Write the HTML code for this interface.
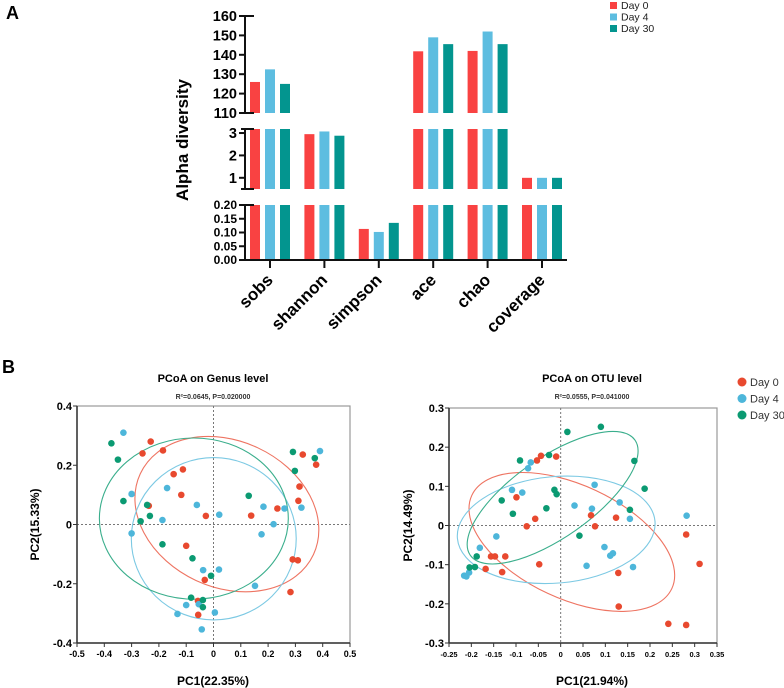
<!DOCTYPE html>
<html><head><meta charset="utf-8"><style>
body{margin:0;background:#fff;}
svg{display:block;font-family:"Liberation Sans",Arial,sans-serif;}
</style></head><body>
<svg id="fig" width="784" height="688" viewBox="0 0 784 688" xmlns="http://www.w3.org/2000/svg">
<text x="6" y="19" font-size="18" font-weight="bold">A</text>
<text x="2" y="373" font-size="18" font-weight="bold">B</text>
<g id="barChart"></g>
<g id="pcoa1"></g>
<g id="pcoa2"></g>
</svg>
<script>
// ---- Bar chart data ----
const categories = ["sobs","shannon","simpson","ace","chao","coverage"];
const groups = ["Day 0","Day 4","Day 30"];
const day0Values = [126, 2.95, 0.113, 141.8, 142, 0.999];
const day4Values = [132.5, 3.07, 0.102, 149, 152, 0.999];
const day30Values = [125, 2.88, 0.135, 145.5, 145.5, 0.999];
const topTicks = [110,120,130,140,150,160];
const midTicks = [1,2,3];
const lowTicks = ["0.00","0.05","0.10","0.15","0.20"];

// ---- PCoA genus data ----
const genusDay0X = [-0.23,-0.26,-0.185,-0.146,-0.112,-0.118,-0.237,-0.028,-0.10,-0.032,-0.057,-0.056,0.138,0.234,0.327,0.376,0.315,0.311,0.29,0.309,0.282];
const genusDay0Y = [0.28,0.24,0.25,0.17,0.186,0.10,0.063,0.029,-0.072,-0.187,-0.258,-0.305,0.03,0.054,0.236,0.202,0.128,0.08,-0.118,-0.121,-0.228];
const genusDay4X = [-0.33,-0.30,-0.17,-0.30,-0.187,-0.061,0.021,-0.038,0.02,-0.10,-0.132,-0.054,0.005,-0.043,0.152,0.176,0.183,0.22,0.26,0.322,0.39];
const genusDay4Y = [0.31,0.103,0.123,-0.03,0.015,0.066,0.033,-0.154,-0.152,-0.272,-0.302,-0.269,-0.297,-0.354,-0.207,-0.033,0.06,0.001,0.054,0.057,0.248];
const genusDay30X = [-0.374,-0.35,-0.33,-0.243,-0.233,-0.267,-0.187,-0.077,-0.009,-0.082,-0.039,-0.039,0.129,0.291,0.298,0.371];
const genusDay30Y = [0.274,0.219,0.079,0.066,0.029,0.011,-0.067,-0.114,-0.173,-0.247,-0.255,-0.279,0.097,0.245,0.181,0.224];
const genusXTicks = [-0.5,-0.4,-0.3,-0.2,-0.1,0,0.1,0.2,0.3,0.4,0.5];
const genusYTicks = [0.4,0.2,0,-0.2,-0.4];

// ---- PCoA OTU data ----
const otuDay0X = [-0.099,-0.076,-0.057,-0.053,-0.044,-0.01,-0.156,-0.147,-0.124,-0.168,-0.131,-0.048,0.068,0.077,0.124,0.129,0.13,0.241,0.281,0.281,0.311];
const otuDay0Y = [0.072,-0.002,0.017,0.166,0.178,0.176,-0.079,-0.079,-0.079,-0.111,-0.119,-0.099,0.026,-0.002,0.02,-0.121,-0.207,-0.251,-0.254,-0.023,-0.098];
const otuDay4X = [-0.216,-0.211,-0.205,-0.181,-0.144,-0.109,-0.086,-0.073,-0.067,0.031,0.07,0.076,0.058,0.098,0.111,0.117,0.132,0.155,0.162,0.282];
const otuDay4Y = [-0.128,-0.13,-0.12,-0.057,-0.028,0.091,0.084,0.146,0.161,0.051,0.043,0.104,-0.103,-0.055,-0.077,-0.071,0.059,0.017,-0.106,0.025];
const otuDay30X = [-0.204,-0.192,-0.188,-0.132,-0.107,-0.091,-0.032,-0.026,-0.014,-0.009,0.015,0.09,0.042,0.165,0.155,0.188];
const otuDay30Y = [-0.107,-0.106,-0.079,0.064,0.03,0.166,0.044,0.18,0.091,0.08,0.239,0.252,-0.026,0.165,0.04,0.094];
const otuXTicks = [-0.25,-0.2,-0.15,-0.1,-0.05,0,0.05,0.1,0.15,0.2,0.25,0.3,0.35];
const otuYTicks = [0.3,0.2,0.1,0,-0.1,-0.2,-0.3];

const NS="http://www.w3.org/2000/svg";
function mk(parent,tag,attrs,text){const e=document.createElementNS(NS,tag);for(const k in attrs)e.setAttribute(k,attrs[k]);if(text!==undefined)e.textContent=text;parent.appendChild(e);return e;}

// ===== Bar chart =====
(function(){
  const g=document.getElementById('barChart');
  const barColors=["#f94242","#5dbde0","#03958f"];
  const series=[day0Values,day4Values,day30Values];
  const axX=245, xEnd=567, g0=270, gStep=54.4, bw=10;
  const segs=[
    {lo:110,hi:160,y0:113,y1:16},
    {lo:0.5,hi:3.18,y0:189,y1:129},
    {lo:0,hi:0.2,y0:260,y1:205}
  ];
  function sy(s,v){return s.y0+(v-s.lo)/(s.hi-s.lo)*(s.y1-s.y0);}
  const xc=i=>g0+i*gStep;
  categories.forEach((c,i)=>{
    series.forEach((vals,k)=>{
      const v=vals[i];
      segs.forEach(s=>{
        if(v<=s.lo) return;
        const vt=Math.min(v,s.hi);
        const yt=sy(s,vt);
        const r=mk(g,'rect',{x:xc(i)+(k-1)*15-bw/2,y:yt,width:bw,height:s.y0-yt,fill:barColors[k]});
        
        
      });
    });
    const t=mk(g,'line',{x1:xc(i),x2:xc(i),y1:261,y2:268,stroke:'#111','stroke-width':2});
    
    
    const lx=xc(i)+4, ly=281;
    const lb=mk(g,'text',{x:lx,y:ly,'font-size':17,'font-weight':'bold','text-anchor':'end',transform:`rotate(-45 ${lx} ${ly})`},c);
    
    
  });
  mk(g,'line',{x1:axX-2,x2:xEnd,y1:260,y2:260,stroke:'#111','stroke-width':2});
  segs.forEach(s=>{mk(g,'line',{x1:axX,x2:axX,y1:s.y1,y2:s.y0,stroke:'#111','stroke-width':2});});
  [16,113,129,189,205].forEach(y=>mk(g,'line',{x1:axX-4,x2:axX+9,y1:y,y2:y,stroke:'#111','stroke-width':2}));
  topTicks.forEach(v=>{const y=sy(segs[0],v);mk(g,'line',{x1:axX-6,x2:axX,y1:y,y2:y,stroke:'#111','stroke-width':2});
    const t=mk(g,'text',{x:axX-8,y:y+5,'font-size':14.5,'font-weight':'bold','text-anchor':'end'},String(v));});
  midTicks.forEach(v=>{const y=sy(segs[1],v);mk(g,'line',{x1:axX-6,x2:axX,y1:y,y2:y,stroke:'#111','stroke-width':2});
    const t=mk(g,'text',{x:axX-8,y:y+5,'font-size':14.5,'font-weight':'bold','text-anchor':'end'},String(v));});
  lowTicks.forEach(v=>{const y=sy(segs[2],parseFloat(v));mk(g,'line',{x1:axX-6,x2:axX,y1:y,y2:y,stroke:'#111','stroke-width':2});
    const t=mk(g,'text',{x:axX-8,y:y+4,'font-size':12,'font-weight':'bold','text-anchor':'end'},v);});
  const yt=mk(g,'text',{x:188,y:140,'font-size':17,'font-weight':'bold','text-anchor':'middle',transform:'rotate(-90 188 140)'},'Alpha diversity');
  
  
  groups.forEach((gr,k)=>{
    const r=mk(g,'rect',{x:610,y:2+k*11.5,width:7,height:7,fill:barColors[k]});
    
    
    const t=mk(g,'text',{x:621,y:9+k*11.5,'font-size':10.5,fill:'#222'},gr);
    
    
  });
})();

// ===== PCoA =====
function pcoa(id,cfg){
  const g=document.getElementById(id);
  const sx=v=>cfg.x0+(v-cfg.xmin)/(cfg.xmax-cfg.xmin)*(cfg.x1-cfg.x0);
  const sy=v=>cfg.y0+(v-cfg.ymin)/(cfg.ymax-cfg.ymin)*(cfg.y1-cfg.y0);
  mk(g,'rect',{x:cfg.x0,y:cfg.y1,width:cfg.x1-cfg.x0,height:cfg.y0-cfg.y1,fill:'none',stroke:'#999','stroke-width':1.2});
  mk(g,'line',{x1:sx(0),x2:sx(0),y1:cfg.y1,y2:cfg.y0,stroke:'#777','stroke-width':1,'stroke-dasharray':'2,2'});
  mk(g,'line',{x1:cfg.x0,x2:cfg.x1,y1:sy(0),y2:sy(0),stroke:'#777','stroke-width':1,'stroke-dasharray':'2,2'});
  mk(g,'line',{x1:cfg.x0,x2:cfg.x1,y1:cfg.y0,y2:cfg.y0,stroke:'#333','stroke-width':1.5});
  mk(g,'line',{x1:cfg.x0,x2:cfg.x0,y1:cfg.y1,y2:cfg.y0,stroke:'#333','stroke-width':1.5});
  cfg.xt.forEach(v=>{const x=sx(v);mk(g,'line',{x1:x,x2:x,y1:cfg.y0,y2:cfg.y0+4,stroke:'#333'});
    const t=mk(g,'text',{x:x,y:cfg.y0+14,'font-size':cfg.xfs,'font-weight':'bold','text-anchor':'middle'},String(v));
    });
  cfg.yt.forEach(v=>{const y=sy(v);mk(g,'line',{x1:cfg.x0-4,x2:cfg.x0,y1:y,y2:y,stroke:'#333'});
    const t=mk(g,'text',{x:cfg.x0-5,y:y+4,'font-size':11,'font-weight':'bold','text-anchor':'end'},String(v));
    });
  let t=mk(g,'text',{x:cfg.tx,y:382,'font-size':11,'font-weight':'bold','text-anchor':'middle'},cfg.title);
  
  t=mk(g,'text',{x:cfg.tx,y:399,'font-size':7,'font-weight':'bold','text-anchor':'middle',fill:'#333'},cfg.sub);
  
  t=mk(g,'text',{x:cfg.tx,y:685,'font-size':12,'font-weight':'bold','text-anchor':'middle'},cfg.xl);
  
  const yc=(cfg.y0+cfg.y1)/2;
  t=mk(g,'text',{x:cfg.ylx,y:yc,'font-size':12,'font-weight':'bold','text-anchor':'middle',transform:`rotate(-90 ${cfg.ylx} ${yc})`},cfg.yl);
  
  const ptC=["#e8492f","#4db6da","#0b9a72"], elC=["#ee7462","#7cc9e3","#3aae8c"];
  const names=["day0","day4","day30"];
  cfg.ell.forEach((e,k)=>{
    const ex=sx(e[0]), ey=sy(e[1]);
    const rx=Math.abs(sx(e[2])-sx(0)), ry=Math.abs(sy(e[3])-sy(0));
    const el=mk(g,'ellipse',{cx:ex,cy:ey,rx:rx,ry:ry,fill:'none',stroke:elC[k],'stroke-width':1.1,transform:`rotate(${e[4]} ${ex} ${ey})`});
    
    
  });
  cfg.pts.forEach((p,k)=>{
    p[0].forEach((xv,i)=>{
      const c=mk(g,'circle',{cx:sx(xv),cy:sy(p[1][i]),r:3.3,fill:ptC[k]});
      
      
    });
  });
}
pcoa('pcoa1',{x0:77,x1:350,y0:643,y1:406,xmin:-0.5,xmax:0.5,ymin:-0.4,ymax:0.4,xt:genusXTicks,yt:genusYTicks,xfs:9,
  title:'PCoA on Genus level',sub:'R²=0.0645, P=0.020000',xl:'PC1(22.35%)',yl:'PC2(15.33%)',tx:213,ylx:39,
  ell:[[0.049,0.035,0.35,0.247,25],[0.001,-0.048,0.302,0.274,0],[-0.072,0.02,0.346,0.272,0]],
  pts:[[genusDay0X,genusDay0Y],[genusDay4X,genusDay4Y],[genusDay30X,genusDay30Y]]});
pcoa('pcoa2',{x0:449,x1:717,y0:643,y1:408,xmin:-0.25,xmax:0.35,ymin:-0.3,ymax:0.3,xt:otuXTicks,yt:otuYTicks,xfs:7.5,
  title:'PCoA on OTU level',sub:'R²=0.0555, P=0.041000',xl:'PC1(21.94%)',yl:'PC2(14.49%)',tx:592,ylx:412,
  ell:[[0.025,-0.042,0.247,0.145,25],[-0.01,-0.011,0.222,0.136,-5],[-0.018,0.071,0.225,0.102,-35]],
  pts:[[otuDay0X,otuDay0Y],[otuDay4X,otuDay4Y],[otuDay30X,otuDay30Y]]});
(function(){
  const svg=document.getElementById('fig');
  const cols=["#e8492f","#4db6da","#0b9a72"];
  groups.forEach((gr,k)=>{
    const c=mk(svg,'circle',{cx:742,cy:382+k*16.5,r:4.5,fill:cols[k]});
    
    
    const t=mk(svg,'text',{x:750,y:386+k*16.5,'font-size':11,fill:'#333'},gr);
    
    
  });
})();
</script>
</body></html>
